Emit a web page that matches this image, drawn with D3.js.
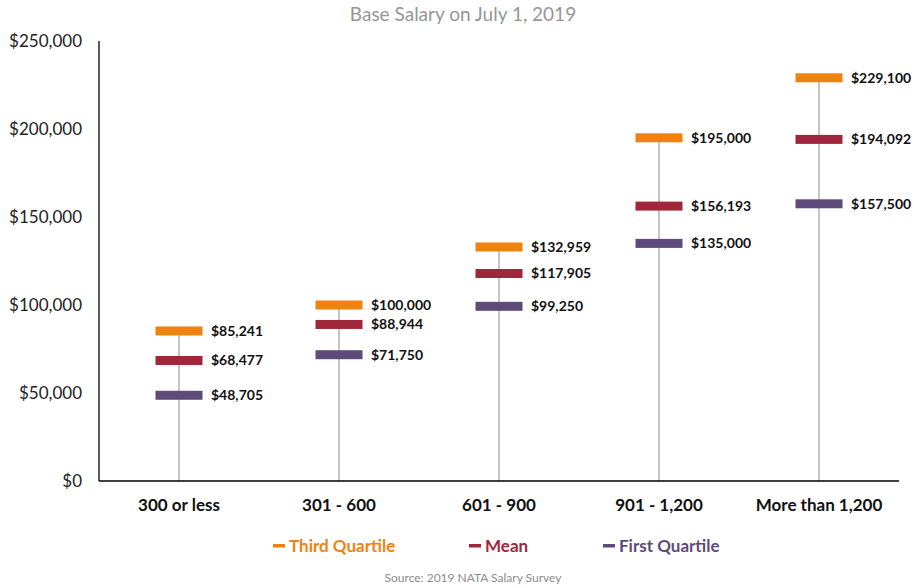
<!DOCTYPE html>
<html>
<head>
<meta charset="utf-8">
<script src="https://cdn.jsdelivr.net/npm/d3@7"></script>
<style>
  body { margin: 0; background: #fff; }
  text { font-family: Lato, "Open Sans", sans-serif; }
</style>
</head>
<body>
<svg id="chart"></svg>
<script>
const categories = ['300 or less', '301 - 600', '601 - 900', '901 - 1,200', 'More than 1,200'];
const thirdQuartile = [85241, 100000, 132959, 195000, 229100];
const mean = [68477, 88944, 117905, 156193, 194092];
const firstQuartile = [48705, 71750, 99250, 135000, 157500];
const yTicks = [0, 50000, 100000, 150000, 200000, 250000];

const width = 914;
const height = 588;
const margin = {top: 41, right: 15, bottom: 107, left: 99};

const series = [
  {name: 'Third Quartile', values: thirdQuartile, color: '#F0820F'},
  {name: 'Mean', values: mean, color: '#A0273A'},
  {name: 'First Quartile', values: firstQuartile, color: '#5F4A7B'}
];

const svg = d3.select('#chart')
  .attr('width', width)
  .attr('height', height);

const x = d3.scaleBand()
  .domain(categories)
  .range([margin.left, width - margin.right]);

const y = d3.scaleLinear()
  .domain([0, 250000])
  .range([height - margin.bottom, margin.top]);

const money = d3.format('$,');

// title
svg.append('text')
  .attr('x', 463)
  .attr('y', 21)
  .attr('text-anchor', 'middle')
  .style('font-size', '19px')
  .style('fill', '#969696')
  .text('Base Salary on July 1, 2019');

// y axis labels
svg.selectAll('.ytick')
  .data(yTicks)
  .join('text')
  .attr('class', 'ytick')
  .attr('x', 82)
  .attr('y', d => y(d) + 6)
  .attr('text-anchor', 'end')
  .style('font-size', '17px')
  .style('fill', '#222')
  .text(d => money(d));

// high-low lines
svg.selectAll('.stem')
  .data(categories)
  .join('line')
  .attr('class', 'stem')
  .attr('x1', d => x(d) + x.bandwidth() / 2)
  .attr('x2', d => x(d) + x.bandwidth() / 2)
  .attr('y1', (d, i) => y(thirdQuartile[i]))
  .attr('y2', y(0))
  .style('stroke', '#a6a6a6')
  .style('stroke-width', 1.3);

// axes lines
svg.append('line')
  .attr('x1', margin.left).attr('x2', margin.left)
  .attr('y1', y(250000)).attr('y2', y(0))
  .style('stroke', '#000').style('stroke-width', 1.3);
svg.append('line')
  .attr('x1', margin.left).attr('x2', width - margin.right)
  .attr('y1', y(0)).attr('y2', y(0))
  .style('stroke', '#000').style('stroke-width', 1.3);

// markers and labels
series.forEach(s => {
  const g = svg.append('g');
  g.selectAll('rect')
    .data(s.values)
    .join('rect')
    .attr('x', (d, i) => x(categories[i]) + x.bandwidth() / 2 - 23.5)
    .attr('y', d => y(d) - 4.5)
    .attr('width', 47)
    .attr('height', 9)
    .style('fill', s.color);
  g.selectAll('text')
    .data(s.values)
    .join('text')
    .attr('x', (d, i) => x(categories[i]) + x.bandwidth() / 2 + 32)
    .attr('y', d => y(d) + 5)
    .style('font-size', '14px')
    .style('font-weight', 'bold')
    .style('fill', '#111')
    .text(d => money(d));
});

// category labels
svg.selectAll('.xtick')
  .data(categories)
  .join('text')
  .attr('class', 'xtick')
  .attr('x', d => x(d) + x.bandwidth() / 2)
  .attr('y', 511)
  .attr('text-anchor', 'middle')
  .style('font-size', '17px')
  .style('font-weight', 'bold')
  .style('fill', '#111')
  .text(d => d);

// legend
const legendX = [273, 469, 603];
series.forEach((s, i) => {
  svg.append('rect')
    .attr('x', legendX[i])
    .attr('y', 544)
    .attr('width', 12)
    .attr('height', 3.5)
    .style('fill', s.color);
  svg.append('text')
    .attr('x', legendX[i] + 16)
    .attr('y', 552)
    .style('font-size', '17px')
    .style('font-weight', 'bold')
    .style('fill', s.color)
    .text(s.name);
});

// source
svg.append('text')
  .attr('x', 473)
  .attr('y', 582)
  .attr('text-anchor', 'middle')
  .style('font-size', '12px')
  .style('fill', '#8c8c8c')
  .text('Source: 2019 NATA Salary Survey');
</script>
</body>
</html>
